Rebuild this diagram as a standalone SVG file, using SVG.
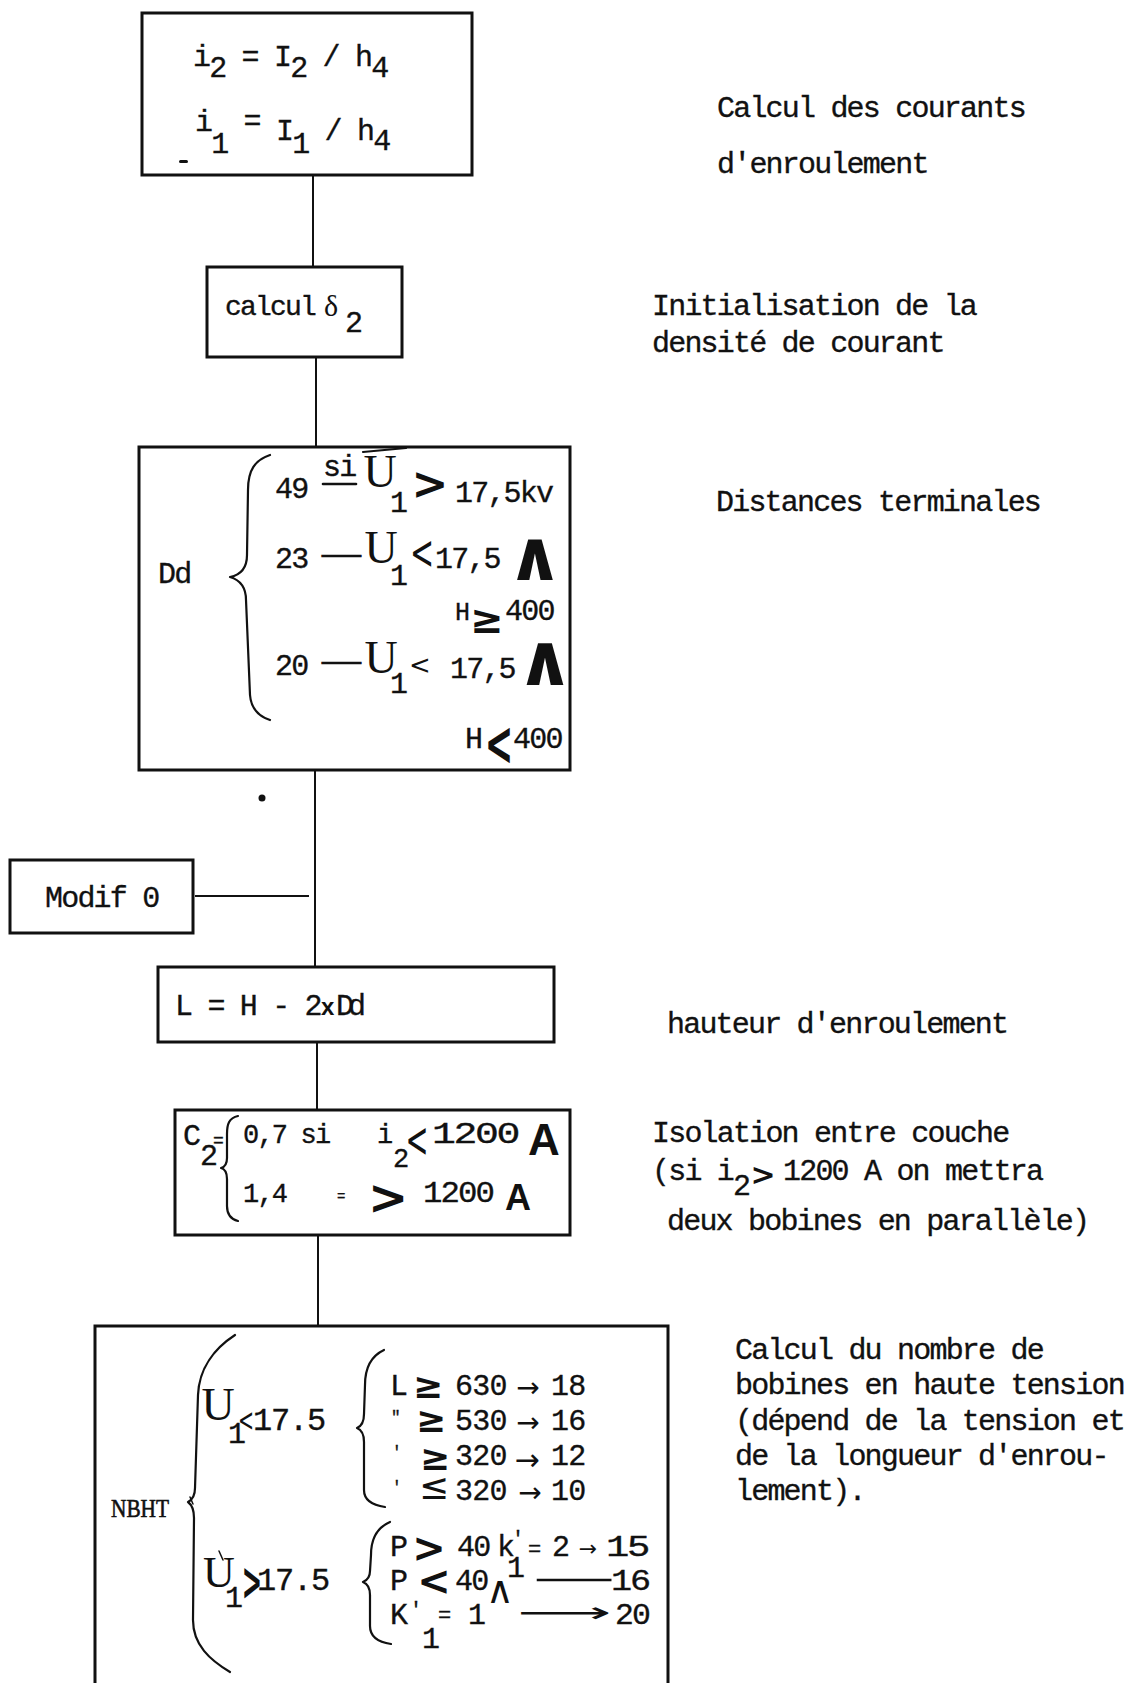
<svg xmlns="http://www.w3.org/2000/svg" width="1131" height="1683" viewBox="0 0 1131 1683">
<style>
.box{fill:none;stroke:#111;stroke-width:3}
.wire{fill:none;stroke:#111;stroke-width:2}
.pen{fill:none;stroke:#111;stroke-width:2.2;stroke-linecap:round;stroke-linejoin:round}
text{fill:#111}
.t{font-family:"Liberation Mono","DejaVu Sans Mono",monospace;font-size:30px;letter-spacing:-1.8px;white-space:pre;stroke:#111;stroke-width:0.35}
.u{font-family:"Liberation Serif",serif;text-anchor:middle}
.m{font-family:"DejaVu Sans",sans-serif;text-anchor:middle}
.mb{font-family:"DejaVu Sans",sans-serif;font-weight:bold;text-anchor:middle}
.ab{font-family:"Liberation Sans",sans-serif;font-weight:bold}
</style>
<rect width="1131" height="1683" fill="#fff"/>

<!-- connectors -->
<g id="connectors">
<path class="wire" d="M313,175 L313,267"/>
<path class="wire" d="M316,357 L316,447"/>
<path class="wire" d="M315,770 L315,967"/>
<path class="wire" d="M195,896 L309,896"/>
<path class="wire" d="M317,1042 L317,1110"/>
<path class="wire" d="M318,1235 L318,1326"/>
</g>

<!-- winding currents -->
<g id="n-currents">
<rect class="box" x="142" y="13" width="330" height="162"/>
<text class="t" x="193" y="66">i<tspan dy="11">2</tspan><tspan dy="-11"> = I</tspan><tspan dy="11">2</tspan><tspan dy="-11"> / h</tspan><tspan dy="11">4</tspan></text>
<text class="t" x="195" y="131">i<tspan dy="22">1</tspan><tspan dy="-23"> = </tspan><tspan dy="10">I</tspan><tspan dy="13">1</tspan><tspan dy="-13"> / h</tspan><tspan dy="10">4</tspan></text>
<rect x="179" y="160" width="9" height="3" rx="1.5" fill="#111"/>
</g>

<!-- current density -->
<g id="n-delta">
<rect class="box" x="207" y="267" width="195" height="90"/>
<text class="t" x="225" y="315" style="font-size:28px;letter-spacing:-1.8px">calcul</text>
<text class="u" x="331" y="316" style="font-size:30px">δ</text>
<text class="t" x="345" y="332">2</text>
</g>

<!-- end distances Dd -->
<g id="n-dd">
<rect class="box" x="139" y="447" width="431" height="323"/>
<text class="t" x="158" y="583">Dd</text>
<path class="pen" d="M270,455 C255,460 248,470 248,490 L247,555 C247,568 240,575 230,577 C240,580 246,588 246,600 L250,695 C251,708 258,716 270,720"/>
<text class="t" x="275" y="498">49</text>
<text class="t" x="323" y="476">si</text>
<path class="pen" d="M323,484 L356,484" style="stroke-width:2.6"/>
<text class="u" x="380" y="487" style="font-size:46px">U</text>
<path class="pen" d="M363,452 L406,448"/>
<text class="t" x="390" y="512">1</text>
<text class="mb" x="430" y="499" style="font-size:44px">&gt;</text>
<text class="t" x="455" y="502">17,5kv</text>

<text class="t" x="275" y="568">23</text>
<text class="t" x="322" y="564" textLength="35" lengthAdjust="spacingAndGlyphs">—</text>
<text class="u" x="381" y="563" style="font-size:46px">U</text>
<text class="t" x="390" y="585">1</text>
<text class="m" x="422" y="569" style="font-size:48px" transform="matrix(0.6 0 0 1 168.8 0)">&lt;</text>
<text class="t" x="435" y="568">17,5</text>
<text class="mb" x="535" y="580" style="font-size:70px">∧</text>
<text class="t" x="455" y="620" style="font-size:25px">H</text>
<text class="mb" x="487" y="633" style="font-size:40px">≥</text>
<text class="t" x="505" y="620">400</text>

<text class="t" x="275" y="675">20</text>
<text class="t" x="322" y="671" textLength="35" lengthAdjust="spacingAndGlyphs">—</text>
<text class="u" x="381" y="673" style="font-size:46px">U</text>
<text class="t" x="390" y="693">1</text>
<text class="m" x="420" y="674" style="font-size:26px">&lt;</text>
<text class="t" x="450" y="678">17,5</text>
<text class="mb" x="545" y="685" style="font-size:72px">∧</text>
<text class="t" x="465" y="748">H</text>
<text class="mb" x="499" y="765" style="font-size:62px" transform="matrix(0.55 0 0 1 224.55 0)">&lt;</text>
<text class="t" x="513" y="748">400</text>
</g>

<circle cx="262" cy="798" r="3.5" fill="#111"/>

<!-- modification entry -->
<g id="n-modif">
<rect class="box" x="10" y="860" width="183" height="73"/>
<text class="t" x="45" y="907">Modif 0</text>
</g>

<!-- winding length -->
<g id="n-length">
<rect class="box" x="158" y="967" width="396" height="75"/>
<text class="t" x="175" y="1015">L = H - 2</text>
<text class="ab" x="321" y="1015" style="font-size:24px">x</text>
<text class="t" x="336" y="1015" style="letter-spacing:-6px">Dd</text>
</g>

<!-- insulation between layers -->
<g id="n-c2">
<rect class="box" x="175" y="1110" width="395" height="125"/>
<text class="t" x="183" y="1145">C</text>
<text class="t" x="200" y="1165">2</text>
<text class="t" x="213" y="1146" style="font-size:18px">=</text>
<path class="pen" d="M238,1116 C229,1118 227,1124 227,1134 L227,1158 C227,1164 225,1167 221,1168 C225,1169 227,1173 227,1179 L227,1206 C227,1214 230,1219 238,1221"/>
<text class="t" x="243" y="1143" style="font-size:27px">0,7 si</text>
<text class="t" x="377" y="1143" style="font-size:27px">i</text>
<text class="t" x="393" y="1167" style="font-size:27px">2</text>
<text class="m" x="417" y="1157" style="font-size:50px" transform="matrix(0.55 0 0 1 187.65 0)">&lt;</text>
<text class="t" x="432" y="1143" textLength="86" lengthAdjust="spacingAndGlyphs">1200</text>
<text class="ab" x="528" y="1155" style="font-size:44px">A</text>
<text class="t" x="243" y="1202" style="font-size:27px">1,4</text>
<text class="t" x="337" y="1201" style="font-size:14px">=</text>
<text class="mb" x="388" y="1214" style="font-size:48px">&gt;</text>
<text class="t" x="423" y="1202" textLength="70" lengthAdjust="spacingAndGlyphs">1200</text>
<text class="ab" x="505" y="1210" style="font-size:36px">A</text>
</g>

<!-- number of HV coils -->
<g id="n-nbht">
<path class="box" d="M95,1683 L95,1326 L668,1326 L668,1683"/>
<text class="u" x="140" y="1517" style="font-size:25px;stroke:#111;stroke-width:0.6" textLength="58" lengthAdjust="spacingAndGlyphs">NBHT</text>
<path class="pen" d="M190,1497 L193,1504" style="stroke-width:1.5"/>
<path class="pen" d="M235,1335 C215,1348 199,1368 198,1395 L195,1488 C195,1496 192,1500 188,1502 C192,1505 194,1510 194,1518 L193,1620 C193,1645 210,1660 230,1672"/>

<text class="u" x="218" y="1420" style="font-size:46px">U</text>
<text class="t" x="228" y="1443">1</text>
<text class="m" x="246" y="1431" style="font-size:32px" transform="matrix(0.6 0 0 1 98.4 0)">&lt;</text>
<text class="t" x="253" y="1430" style="font-size:32px;letter-spacing:-1.2px">17.5</text>

<text class="u" x="219" y="1587" style="font-size:44px">U</text>
<path class="pen" d="M219,1551 L223,1560" style="stroke-width:1.5"/>
<text class="t" x="225" y="1607">1</text>
<text class="mb" x="252" y="1600" style="font-size:54px" transform="matrix(0.45 0 0 1 138.6 0)">&gt;</text>
<text class="t" x="257" y="1590" style="font-size:32px;letter-spacing:-1.2px">17.5</text>

<path class="pen" d="M384,1350 C369,1357 365,1370 365,1385 L364,1414 C364,1422 362,1426 357,1428 C362,1430 364,1434 364,1442 L364,1490 C364,1499 371,1505 385,1507"/>
<text class="t" x="390" y="1395">L</text>
<text class="mb" x="428" y="1398" style="font-size:36px">≥</text>
<text class="t" x="455" y="1395" style="letter-spacing:-0.8px">630</text>
<text class="m" x="528" y="1397" style="font-size:28px">→</text>
<text class="t" x="551" y="1395" style="letter-spacing:-0.8px">18</text>

<text class="t" x="391" y="1422" style="font-size:16px">"</text>
<text class="mb" x="431" y="1432" style="font-size:36px">≥</text>
<text class="t" x="455" y="1430" style="letter-spacing:-0.8px">530</text>
<text class="m" x="528" y="1432" style="font-size:28px">→</text>
<text class="t" x="551" y="1430" style="letter-spacing:-0.8px">16</text>

<text class="t" x="392" y="1457" style="font-size:16px">'</text>
<text class="mb" x="435" y="1470" style="font-size:36px">≥</text>
<text class="t" x="455" y="1465" style="letter-spacing:-0.8px">320</text>
<text class="m" x="527" y="1470" style="font-size:30px">→</text>
<text class="t" x="551" y="1465" style="letter-spacing:-0.8px">12</text>

<text class="t" x="392" y="1492" style="font-size:16px">'</text>
<text class="m" x="434" y="1499" style="font-size:36px">≤</text>
<text class="t" x="455" y="1500" style="letter-spacing:-0.8px">320</text>
<text class="m" x="530" y="1502" style="font-size:28px">→</text>
<text class="t" x="551" y="1500" style="letter-spacing:-0.8px">10</text>

<path class="pen" d="M390,1522 C376,1528 371,1540 371,1555 L370,1571 C370,1577 368,1580 363,1582 C368,1584 370,1588 370,1595 L370,1626 C370,1636 377,1642 391,1644"/>
<text class="t" x="390" y="1556">P</text>
<text class="mb" x="429" y="1562" style="font-size:40px">&gt;</text>
<text class="t" x="457" y="1556">40</text>
<text class="t" x="497" y="1556">k</text>
<text class="t" x="512" y="1545" style="font-size:20px">'</text>
<text class="t" x="507" y="1577">1</text>
<text class="t" x="528" y="1556" style="font-size:22px">=</text>
<text class="t" x="552" y="1556">2</text>
<text class="m" x="588" y="1556" style="font-size:22px">→</text>
<text class="t" x="606" y="1556" textLength="42" lengthAdjust="spacingAndGlyphs">15</text>

<text class="t" x="390" y="1590">P</text>
<text class="mb" x="434" y="1595" style="font-size:40px">&lt;</text>
<text class="t" x="455" y="1590">40</text>
<text class="m" x="500" y="1603" style="font-size:38px">∧</text>
<text class="t" x="538" y="1588" textLength="65" lengthAdjust="spacingAndGlyphs">—</text>
<text class="t" x="611" y="1590" textLength="38" lengthAdjust="spacingAndGlyphs">16</text>

<text class="t" x="390" y="1624">K</text>
<text class="t" x="410" y="1616" style="font-size:20px">'</text>
<text class="t" x="422" y="1648">1</text>
<text class="t" x="438" y="1622" style="font-size:22px">=</text>
<text class="t" x="468" y="1624">1</text>
<text class="m" x="564" y="1622" style="font-size:28px" textLength="94" lengthAdjust="spacingAndGlyphs">⟶</text>
<text class="t" x="615" y="1624" textLength="34" lengthAdjust="spacingAndGlyphs">20</text>
</g>

<!-- side notes -->
<g id="notes">
<text class="t" x="717" y="117">Calcul des courants</text>
<text class="t" x="717" y="173">d'enroulement</text>
<text class="t" x="652" y="315">Initialisation de la</text>
<text class="t" x="652" y="352">densité de courant</text>
<text class="t" x="716" y="511">Distances terminales</text>
<text class="t" x="667" y="1033">hauteur d'enroulement</text>
<text class="t" x="652" y="1142">Isolation entre couche</text>
<text class="t" x="652" y="1180">(si i</text>
<text class="t" x="733" y="1195">2</text>
<text class="mb" x="763" y="1185" style="font-size:30px">&gt;</text>
<text class="t" x="783" y="1180">1200 A on mettra</text>
<text class="t" x="667" y="1230">deux bobines en parallèle)</text>
<text class="t" x="735" y="1359">Calcul du nombre de</text>
<text class="t" x="735" y="1394">bobines en haute tension</text>
<text class="t" x="735" y="1430">(dépend de la tension et</text>
<text class="t" x="735" y="1465">de la longueur d'enrou-</text>
<text class="t" x="735" y="1500">lement).</text>
</g>
</svg>
